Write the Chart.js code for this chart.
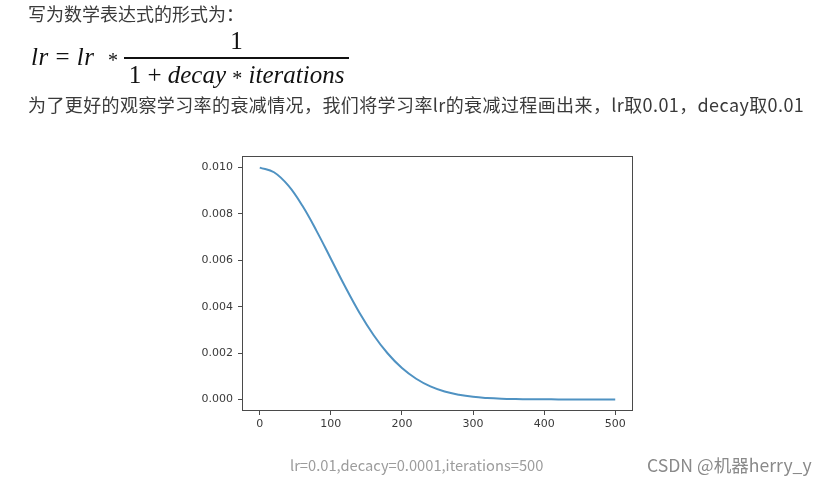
<!DOCTYPE html>
<html>
<head>
<meta charset="utf-8">
<script src="https://cdn.jsdelivr.net/npm/chart.js@4"></script>
<style>
  html, body { margin: 0; padding: 0; background: #fff; }
  body { width: 830px; height: 486px; position: relative; overflow: hidden; }
  .txt { position: absolute; font-family: "Noto Sans CJK SC", "Noto Sans", sans-serif; color: #3a3a3a; white-space: nowrap; }
  .m { position: absolute; font-family: "Liberation Serif", serif; font-size: 25px; color: #111; white-space: nowrap; line-height: 28px; }
  .m i { font-style: italic; }
  .op { font-size: 20px; position: relative; top: 2px; }
  #lrChart { position: absolute; left: 0; top: 0; }
</style>
</head>
<body>
<canvas id="lrChart" width="830" height="486"></canvas>

<div class="txt" style="left:28px; top:1px; font-size:18px; line-height:24px;">写为数学表达式的形式为：</div>

<div class="m" style="left:31px; top:43px; letter-spacing:0.5px;"><i>lr</i> = <i>lr</i> &nbsp;<span class="op">*</span></div>
<div class="m" style="left:124px; top:27px; width:225px; text-align:center;">1</div>
<div style="position:absolute; left:124px; top:57px; width:225px; height:1.5px; background:#111;"></div>
<div class="m" style="left:124px; top:61px; width:225px; text-align:center;">1 + <i>decay</i> <span class="op">*</span> <i>iterations</i></div>

<div class="txt" style="left:28px; top:92px; font-size:18px; line-height:24px; letter-spacing:0.4px;">为了更好的观察学习率的衰减情况，我们将学习率lr的衰减过程画出来，lr取0.01，decay取0.01</div>

<div class="txt" style="left:290px; top:455px; font-size:14.7px; line-height:20px; color:#9c9c9c;">lr=0.01,decacy=0.0001,iterations=500</div>
<div class="txt" style="left:647px; top:454px; font-size:17.6px; line-height:22px; color:#8a8a8a;">CSDN @机器herry_y</div>

<script>
// learning rate, every 20 iterations
const iterations = [0, 20, 40, 60, 80, 100, 120, 140, 160, 180, 200, 220, 240, 260, 280, 300, 320, 340, 360, 380, 400, 420, 440, 460, 480, 500];
const lrValues = [0.01, 0.0098, 0.00923, 0.00835, 0.00726, 0.00607, 0.00487, 0.00375, 0.00278, 0.00198, 0.00135, 0.00089, 0.00056, 0.00034, 0.0002, 0.00011, 0.00006, 0.00003, 0.000015, 0.000007, 0.000003, 0.000001, 0, 0, 0, 0];

const xTicksStep = 100;
const yTicksStep = 0.002;

const frame = {
  id: "frame",
  afterDraw(chart) {
    const a = chart.chartArea;
    const ctx = chart.ctx;
    ctx.save();
    ctx.strokeStyle = "#4a4a4a";
    ctx.lineWidth = 1;
    ctx.strokeRect(a.left + 0.5, a.top + 0.5, a.right - a.left - 1, a.bottom - a.top - 1);
    ctx.restore();
  },
};

const ctx = document.getElementById("lrChart").getContext("2d");
new Chart(ctx, {
  type: "line",
  data: {
    datasets: [
      {
        data: iterations.map((it, i) => ({ x: it, y: lrValues[i] })),
        borderColor: "#4f92c2",
        borderWidth: 2,
        pointRadius: 0,
        tension: 0.4,
      },
    ],
  },
  options: {
    responsive: false,
    animation: false,
    layout: { padding: { left: 202, top: 156, right: 197, bottom: 50 } },
    plugins: { legend: { display: false }, tooltip: { enabled: false } },
    scales: {
      x: {
        type: "linear",
        min: -25,
        max: 525,
        afterFit: (s) => { s.height = 25; },
        grid: { drawOnChartArea: false, drawTicks: true, tickLength: 4, tickColor: "#4a4a4a" },
        border: { display: false },
        ticks: { stepSize: xTicksStep, includeBounds: false, padding: 3, color: "#3a3a3a", font: { family: "DejaVu Sans", size: 11 } },
      },
      y: {
        min: -0.0005,
        max: 0.0105,
        afterFit: (s) => { s.width = 40; },
        grid: { drawOnChartArea: false, drawTicks: true, tickLength: 4, tickColor: "#4a4a4a" },
        border: { display: false },
        ticks: {
          stepSize: yTicksStep,
          includeBounds: false,
          padding: 5,
          color: "#3a3a3a",
          font: { family: "DejaVu Sans", size: 11 },
          callback: (v) => v.toFixed(3),
        },
      },
    },
  },
  plugins: [frame],
});
</script>
</body>
</html>
